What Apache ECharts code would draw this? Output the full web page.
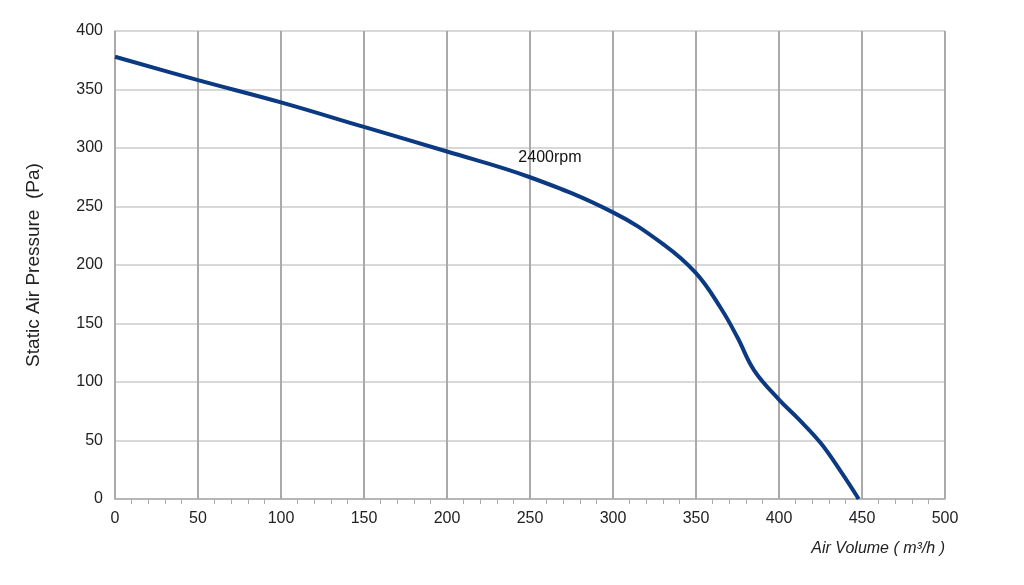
<!DOCTYPE html>
<html><head><meta charset="utf-8">
<script src="https://cdn.jsdelivr.net/npm/echarts@6/dist/echarts.min.js"></script>
<style>html,body{margin:0;background:#fff}#c{width:1024px;height:585px}</style>
</head><body><div id="c"></div>
<script>
const airVolume = [0, 50, 100, 150, 200, 250, 300, 330, 350, 365, 375, 385, 400, 412, 425, 437, 448];
const pressure  = [378, 358, 339, 318, 297, 275, 245, 218, 193, 163, 138, 110, 85, 68, 48, 24, 0];
const seriesName = '2400rpm';
const labelPos = [262, 292];
const data = airVolume.map((x, i) => [x, pressure[i]]);
const chart = echarts.init(document.getElementById('c'));
const font = {fontFamily: 'Liberation Sans', fontSize: 16, color: '#222'};
chart.setOption({
  animation: false,
  grid: {left: 115, right: 79, top: 31, bottom: 86},
  xAxis: {
    type: 'value', min: 0, max: 500, interval: 50,
    name: 'Air Volume ( m³/h )', nameLocation: 'end',
    nameGap: 0,
    nameTextStyle: {fontFamily: 'Liberation Sans', fontStyle: 'italic', fontSize: 16, color: '#222',
      align: 'right', verticalAlign: 'top', padding: [42, 0, 0, 0]},
    axisLine: {lineStyle: {color: '#aaa', width: 1.5}},
    axisTick: {show: false},
    minorTick: {show: true, splitNumber: 5, length: 5, lineStyle: {color: '#aaa'}},
    axisLabel: Object.assign({margin: 12}, font),
    splitLine: {lineStyle: {color: '#aaa', width: 2}}
  },
  yAxis: {
    type: 'value', min: 0, max: 400, interval: 50,
    name: 'Static Air Pressure  (Pa)', nameLocation: 'middle', nameGap: 72,
    nameTextStyle: {fontFamily: 'Liberation Sans', fontSize: 19, color: '#222'},
    axisLine: {show: true, lineStyle: {color: '#aaa', width: 1.5}},
    axisTick: {show: false},
    axisLabel: Object.assign({margin: 12}, font),
    splitLine: {lineStyle: {color: '#d8d8d8', width: 2}}
  },
  series: [{
    type: 'line', name: seriesName, data: data, smooth: 0.4, showSymbol: false,
    lineStyle: {color: '#0b3a82', width: 4}
  }, {
    type: 'scatter', data: [labelPos], symbolSize: 0, silent: true,
    label: {show: true, position: 'inside', formatter: seriesName, fontFamily: 'Liberation Sans',
      fontSize: 16, color: '#111', textBorderWidth: 0, opacity: 1}
  }]
});
</script></body></html>
